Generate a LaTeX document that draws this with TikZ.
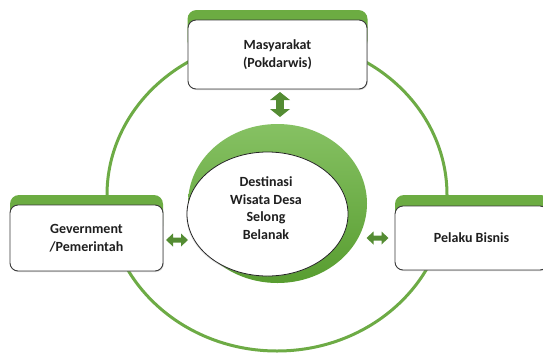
\documentclass[tikz,border=0pt]{standalone}
\usepackage{fontspec}
\setmainfont{Carlito}
\usetikzlibrary{shadows,shapes.geometric}
\definecolor{ringgreen}{HTML}{6DAB45}
\definecolor{tabgreen}{HTML}{6CAC42}
\definecolor{arrowgreen}{HTML}{548C33}
\definecolor{crestop}{HTML}{86C163}
\definecolor{cresbot}{HTML}{589D30}
\definecolor{ink}{HTML}{1F1F1F}
\definecolor{edge}{HTML}{3A3A3A}

\tikzset{
  vdouble/.pic={\fill[arrowgreen] (0,-12.5) -- (10,-4.5) -- (3.8,-4.5) -- (3.8,4.5) -- (10,4.5) -- (0,12.5) -- (-10,4.5) -- (-3.8,4.5) -- (-3.8,-4.5) -- (-10,-4.5) -- cycle;},
  hdouble/.pic={\fill[arrowgreen] (-11,0) -- (-4,-6.5) -- (-4,-2.5) -- (4,-2.5) -- (4,-6.5) -- (11,0) -- (4,6.5) -- (4,2.5) -- (-4,2.5) -- (-4,6.5) -- cycle;}
}

\begin{document}
\begin{tikzpicture}[x=1pt,y=-1pt,
  font=\bfseries\fontsize{14}{17.5}\selectfont,
  tab/.style={fill=tabgreen, rounded corners=9pt},
  card/.style={draw=edge, line width=0.9pt, fill=white, rounded corners=8pt, align=center, text=ink,
    drop shadow={opacity=0.3, shadow xshift=0.8pt, shadow yshift=-1pt}},
  label/.style={text=ink, align=center, inner sep=0pt},
  ring/.style={draw=ringgreen, line width=3pt}]

\useasboundingbox (0,0) rectangle (543,354);
\clip (0,0) rectangle (543,354);

% outer cycle joining the three stakeholders
\draw[ring] (277,195) ellipse [x radius=170pt, y radius=156pt];

% green tabs peeking above each card
\fill[tab] (187.5,10) rectangle (367.5,50);
\fill[tab] (10,195) rectangle (163,235);
\fill[tab] (395,195) rectangle (550,235);

% stakeholder cards
\node[card, minimum width=179pt, minimum height=69pt] (pok) at (277.5,54.5) {Masyarakat\\(Pokdarwis)};
\node[card, minimum width=153pt, minimum height=66pt] (gov) at (86.5,238) {Gevernment\\/Pemerintah};
\node[card, minimum width=153pt, minimum height=64pt] (biz) at (471.5,238) {Pelaku Bisnis};

% central destination with crescent
\shade[top color=crestop, bottom color=cresbot] (277.5,203.5) ellipse [x radius=89.5pt, y radius=79.5pt];
\node[ellipse, draw=black!85, line width=0.8pt, fill=white, minimum width=161pt, minimum height=124pt, inner sep=0pt,
  drop shadow={opacity=0.25, shadow xshift=-0.8pt, shadow yshift=-1pt}] (dest) at (267.5,214) {};
\node[label] (desttext) at (266,208) {Destinasi\\Wisata Desa\\Selong\\Belanak};

% two-way links between the destination and each stakeholder
\pic at (280,104.5) {vdouble};
\pic at (177,240) {hdouble};
\pic at (377.5,238) {hdouble};

\end{tikzpicture}
\end{document}
